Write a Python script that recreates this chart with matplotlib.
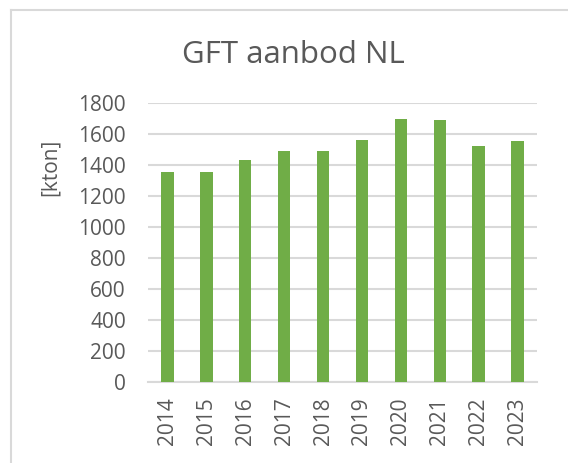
#!/usr/bin/env python3

"""GFT aanbod NL: yearly supply of organic waste (GFT) in kton, as an Excel-style bar chart."""

import matplotlib

matplotlib.use("Agg")
import matplotlib.pyplot as plt
from matplotlib.lines import Line2D

years = ["2014", "2015", "2016", "2017", "2018", "2019", "2020", "2021", "2022", "2023"]
supply_kton = [1355, 1355, 1430, 1490, 1490, 1560, 1700, 1690, 1520, 1555]
y_ticks = [0, 200, 400, 600, 800, 1000, 1200, 1400, 1600, 1800]

TEXT = "#595959"
GRID = "#d9d9d9"
GREEN = "#70ad47"

plt.rcParams["font.family"] = ["Open Sans", "DejaVu Sans"]

fig = plt.figure(figsize=(5.68, 4.63), dpi=100)
ax = fig.add_axes([0.2606, 0.175, 0.6848, 0.6025])

x = range(len(years))
ax.bar(x, supply_kton, width=0.32, color=GREEN, zorder=3)

ax.set_xlim(-0.5, len(years) - 0.5)
ax.set_ylim(0, 1800)
ax.set_yticks(y_ticks)
ax.set_xticks(list(x))
ax.set_xticklabels(years, rotation=90)

# Excel look: no spines except a grey baseline, horizontal grid only
for side in ["top", "right", "left"]:
    ax.spines[side].set_visible(False)
ax.spines["bottom"].set_color(GRID)
ax.spines["bottom"].set_linewidth(1.5)
ax.grid(axis="y", color=GRID, linewidth=1.5, zorder=0)
ax.tick_params(axis="both", length=0, labelsize=15, labelcolor=TEXT)
ax.tick_params(axis="y", pad=16)
ax.tick_params(axis="x", pad=11)

ax.set_ylabel("[kton]", fontsize=15, color=TEXT, va="center")
ax.yaxis.set_label_coords(-0.252, 0.77)

fig.text(0.516, 0.882, "GFT aanbod NL", fontsize=22.5, color=TEXT, ha="center", va="center")

# chart frame (left and top edges visible in the crop)
fig.add_artist(Line2D([11 / 568, 11 / 568], [0, 1 - 10 / 463], color=GRID, linewidth=1.5,
                      transform=fig.transFigure))
fig.add_artist(Line2D([11 / 568, 1], [1 - 10 / 463, 1 - 10 / 463], color=GRID, linewidth=1.5,
                      transform=fig.transFigure))

fig.savefig("out.png", dpi=100)
